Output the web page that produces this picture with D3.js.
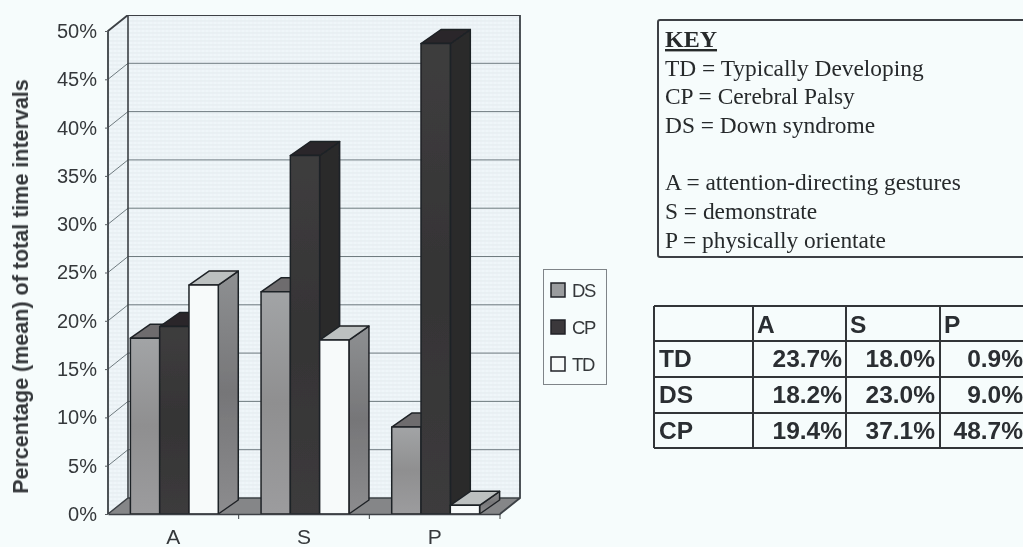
<!DOCTYPE html>
<html>
<head>
<meta charset="utf-8">
<script src="https://cdn.jsdelivr.net/npm/d3@7"></script>
<style>
  html, body { margin: 0; padding: 0; background: #f6fcfc; overflow: hidden; }
  svg { display: block; }
</style>
</head>
<body>
<div id="wrapper"></div>
<script>
const categories = ["A", "S", "P"]
const seriesNames = ["DS", "CP", "TD"]
const dsValues = [18.2, 23.0, 9.0]
const cpValues = [19.4, 37.1, 48.7]
const tdValues = [23.7, 18.0, 0.9]
const yTicks = [0, 5, 10, 15, 20, 25, 30, 35, 40, 45, 50]
const keyLines = [
  "TD = Typically Developing",
  "CP = Cerebral Palsy",
  "DS = Down syndrome",
  "",
  "A = attention-directing gestures",
  "S = demonstrate",
  "P = physically orientate",
]
const tableRows = ["TD", "DS", "CP"]

const valuesBySeries = { DS: dsValues, CP: cpValues, TD: tdValues }

const sans = "'Liberation Sans', Arial, sans-serif"
const serif = "'Liberation Serif', 'Times New Roman', serif"

const dimensions = {
  width: 1023,
  height: 547,
  left: 108,
  right: 500,
  top: 31,
  bottom: 514,
  depthX: 20,
  depthY: 16,
  barDepthX: 20,
  barDepthY: 14,
}

const colors = {
  DS: { front: "url(#dsFront)", top: "#6e6c6e", side: "#77777a" },
  CP: { front: "url(#cpFront)", top: "#2b282a", side: "#2a2a2c" },
  TD: { front: "#f7fafa", top: "#bcc0c0", side: "url(#tdSide)" },
}
const edge = "#1f2226"
const textColor = "#35383b"

const svg = d3.select("#wrapper")
  .append("svg")
    .attr("width", dimensions.width)
    .attr("height", dimensions.height)

const defs = svg.append("defs")

defs.append("filter").attr("id", "scan")
  .attr("x", 0).attr("y", 0).attr("width", 1).attr("height", 1)
  .append("feGaussianBlur").attr("stdDeviation", 0.55)

// the scan shows the wall as a very faint grid of fine lines
const hatch = defs.append("pattern")
  .attr("id", "wallHatch")
  .attr("patternUnits", "userSpaceOnUse")
  .attr("width", 4).attr("height", 4)
hatch.append("rect").attr("width", 4).attr("height", 4).attr("fill", "#eff6f9")
hatch.append("line").attr("x1", 0).attr("x2", 4).attr("y1", 1).attr("y2", 1)
  .attr("stroke", "#d9e1e6").attr("stroke-width", 0.6)
hatch.append("line").attr("x1", 1).attr("x2", 1).attr("y1", 0).attr("y2", 4)
  .attr("stroke", "#e6edf0").attr("stroke-width", 0.5)

function banded(id, stops) {
  const g = defs.append("linearGradient").attr("id", id)
    .attr("x1", 0).attr("x2", 0).attr("y1", 0).attr("y2", 1)
  stops.forEach(([o, c]) => g.append("stop").attr("offset", o).attr("stop-color", c))
}
banded("dsFront", [[0, "#a2a4a6"], [0.5, "#8f8f90"], [1, "#9c9c9e"]])
banded("cpFront", [[0, "#3e3d3e"], [0.5, "#353435"], [1, "#3c3b3c"]])
banded("tdSide", [[0, "#8e9092"], [0.5, "#767678"], [1, "#8c8c8e"]])

const chart = svg.append("g").attr("filter", "url(#scan)")

const yScale = d3.scaleLinear()
  .domain([0, 50])
  .range([dimensions.bottom, dimensions.top])

const xScale = d3.scaleBand()
  .domain(categories)
  .range([dimensions.left, dimensions.right])

const seriesScale = d3.scaleBand()
  .domain(seriesNames)
  .range([1, xScale.bandwidth() + 1])
  .paddingInner(0)
  .paddingOuter(0.73)

const poly = pts => pts.map(p => p.join(",")).join(" ")
const { depthX, depthY, barDepthX, barDepthY } = dimensions

// back wall, side wall, floor
chart.append("rect")
  .attr("x", dimensions.left + depthX)
  .attr("y", dimensions.top - depthY)
  .attr("width", dimensions.right - dimensions.left)
  .attr("height", dimensions.bottom - dimensions.top)
  .attr("fill", "url(#wallHatch)")

chart.append("polygon")
  .attr("points", poly([
    [dimensions.left, dimensions.top],
    [dimensions.left + depthX, dimensions.top - depthY],
    [dimensions.left + depthX, dimensions.bottom - depthY],
    [dimensions.left, dimensions.bottom],
  ]))
  .attr("fill", "url(#wallHatch)")

chart.append("polygon")
  .attr("points", poly([
    [dimensions.left, dimensions.bottom],
    [dimensions.left + depthX, dimensions.bottom - depthY],
    [dimensions.right + depthX, dimensions.bottom - depthY],
    [dimensions.right, dimensions.bottom],
  ]))
  .attr("fill", "#858688")

// gridlines run along the side wall and across the back
const grid = chart.append("g")
grid.selectAll("line.back")
  .data(yTicks.slice(1, -1))
  .join("line")
    .attr("class", "back")
    .attr("x1", dimensions.left + depthX)
    .attr("x2", dimensions.right + depthX)
    .attr("y1", d => yScale(d) - depthY)
    .attr("y2", d => yScale(d) - depthY)
    .attr("stroke", "#6f7b80")
    .attr("stroke-width", 1)
grid.selectAll("line.side")
  .data(yTicks.slice(1, -1))
  .join("line")
    .attr("class", "side")
    .attr("x1", dimensions.left)
    .attr("x2", dimensions.left + depthX)
    .attr("y1", d => yScale(d))
    .attr("y2", d => yScale(d) - depthY)
    .attr("stroke", "#6f7b80")
    .attr("stroke-width", 1)

// outline of the box
chart.append("path")
  .attr("d", `M${dimensions.left},${dimensions.bottom}
    L${dimensions.left},${dimensions.top}
    L${dimensions.left + depthX},${dimensions.top - depthY}
    L${dimensions.right + depthX},${dimensions.top - depthY}
    L${dimensions.right + depthX},${dimensions.bottom - depthY}
    L${dimensions.right},${dimensions.bottom}`)
  .attr("fill", "none")
  .attr("stroke", "#3c4145")
  .attr("stroke-width", 1.8)
chart.append("path")
  .attr("d", `M${dimensions.left},${dimensions.bottom}
    L${dimensions.left + depthX},${dimensions.bottom - depthY}
    L${dimensions.right + depthX},${dimensions.bottom - depthY}
    M${dimensions.left + depthX},${dimensions.bottom - depthY}
    L${dimensions.left + depthX},${dimensions.top - depthY}`)
  .attr("fill", "none")
  .attr("stroke", "#3c4145")
  .attr("stroke-width", 1.6)

// bars, painted left to right so each one covers its neighbour's side
categories.forEach((cat, i) => {
  const g = chart.append("g")
  seriesNames.forEach(name => {
    const v = valuesBySeries[name][i]
    const x0 = xScale(cat) + seriesScale(name)
    const x1 = x0 + seriesScale.bandwidth()
    const yTop = yScale(v)
    const yBase = yScale(0)
    const c = colors[name]
    const bar = g.append("g")
      .attr("stroke", edge)
      .attr("stroke-width", 1.5)
      .attr("stroke-linejoin", "round")
    bar.append("polygon")
      .attr("points", poly([
        [x1, yTop], [x1 + barDepthX, yTop - barDepthY],
        [x1 + barDepthX, yBase - barDepthY], [x1, yBase],
      ]))
      .attr("fill", c.side)
    bar.append("polygon")
      .attr("points", poly([
        [x0, yTop], [x0 + barDepthX, yTop - barDepthY],
        [x1 + barDepthX, yTop - barDepthY], [x1, yTop],
      ]))
      .attr("fill", c.top)
    bar.append("rect")
      .attr("x", x0)
      .attr("y", yTop)
      .attr("width", x1 - x0)
      .attr("height", yBase - yTop)
      .attr("fill", c.front)
  })
})

// axes
const yAxis = chart.append("g")
  .attr("transform", `translate(${dimensions.left},0)`)
  .call(d3.axisLeft(yScale).tickValues(yTicks).tickFormat(d => d + "%").tickSize(3).tickPadding(8))
yAxis.select(".domain").remove()
yAxis.selectAll("line").attr("stroke", "#5a5f63")
yAxis.selectAll("text")
  .attr("font-family", sans)
  .attr("font-size", 20)
  .attr("fill", textColor)

const xAxis = chart.append("g")
  .attr("transform", `translate(0,${dimensions.bottom})`)
  .call(d3.axisBottom(xScale).tickSize(0).tickPadding(15))
xAxis.select(".domain")
  .attr("stroke", "#3c4145")
  .attr("stroke-width", 1.6)
xAxis.selectAll("text")
  .attr("font-family", sans)
  .attr("font-size", 21)
  .attr("fill", textColor)
xAxis.selectAll("line.sep")
  .data(xScale.domain())
  .join("line")
    .attr("class", "sep")
    .attr("x1", d => xScale(d) + xScale.bandwidth())
    .attr("x2", d => xScale(d) + xScale.bandwidth())
    .attr("y1", 0)
    .attr("y2", 5)
    .attr("stroke", "#3c4145")

chart.append("text")
  .attr("transform", "translate(28,286.5) rotate(-90)")
  .attr("text-anchor", "middle")
  .attr("font-family", sans)
  .attr("font-size", 21.5)
  .attr("font-weight", "bold")
  .attr("fill", textColor)
  .text("Percentage (mean) of total time intervals")

// legend
const legend = chart.append("g")
legend.append("rect")
  .attr("x", 543.5).attr("y", 269.5)
  .attr("width", 63).attr("height", 115)
  .attr("fill", "none")
  .attr("stroke", "#7f8488")
  .attr("stroke-width", 1)
const legendFill = { DS: "#9a9c9e", CP: "#3a393a", TD: "#f7fafa" }
seriesNames.forEach((name, i) => {
  const y = 283 + i * 37
  legend.append("rect")
    .attr("x", 551).attr("y", y)
    .attr("width", 14).attr("height", 14)
    .attr("fill", legendFill[name])
    .attr("stroke", edge)
    .attr("stroke-width", 1.5)
  legend.append("text")
    .attr("x", 572).attr("y", y + 14)
    .attr("font-family", sans)
    .attr("font-size", 18.5)
    .attr("letter-spacing", -1.4)
    .attr("fill", textColor)
    .text(name)
})

// key box
const key = chart.append("g")
key.append("rect")
  .attr("x", 658).attr("y", 20)
  .attr("width", 380).attr("height", 237)
  .attr("rx", 2)
  .attr("fill", "none")
  .attr("stroke", "#3c4145")
  .attr("stroke-width", 2)
key.append("text")
  .attr("x", 665).attr("y", 47)
  .attr("font-family", serif)
  .attr("font-size", 24)
  .attr("font-weight", "bold")
  .attr("text-decoration", "underline")
  .attr("fill", "#26292c")
  .text("KEY")
key.selectAll("text.line")
  .data(keyLines)
  .join("text")
    .attr("class", "line")
    .attr("x", 665)
    .attr("y", (d, i) => 75.5 + i * 28.7)
    .attr("font-family", serif)
    .attr("font-size", 23.4)
    .attr("fill", "#26292c")
    .text(d => d)

// table
const colEdges = [654, 753, 846, 940]
const valueRight = [842, 935, 1023]
const rowEdges = [306, 341, 377, 413, 448]
const table = chart.append("g")
table.selectAll("line.h")
  .data(rowEdges)
  .join("line")
    .attr("class", "h")
    .attr("x1", colEdges[0]).attr("x2", 1023)
    .attr("y1", d => d).attr("y2", d => d)
    .attr("stroke", "#303438").attr("stroke-width", 2)
table.selectAll("line.v")
  .data(colEdges)
  .join("line")
    .attr("class", "v")
    .attr("x1", d => d).attr("x2", d => d)
    .attr("y1", rowEdges[0]).attr("y2", rowEdges[4])
    .attr("stroke", "#303438").attr("stroke-width", 2)

const tableText = (x, y, str, anchor) => table.append("text")
  .attr("x", x).attr("y", y)
  .attr("text-anchor", anchor)
  .attr("font-family", sans)
  .attr("font-size", 24.5)
  .attr("font-weight", "bold")
  .attr("fill", "#2a2d30")
  .text(str)

categories.forEach((cat, c) => {
  tableText(colEdges[c + 1] + 4, rowEdges[0] + 27, cat, "start")
})
tableRows.forEach((name, r) => {
  tableText(colEdges[0] + 5, rowEdges[r + 1] + 26, name, "start")
  categories.forEach((cat, c) => {
    tableText(valueRight[c], rowEdges[r + 1] + 26, valuesBySeries[name][c].toFixed(1) + "%", "end")
  })
})
</script>
</body>
</html>
